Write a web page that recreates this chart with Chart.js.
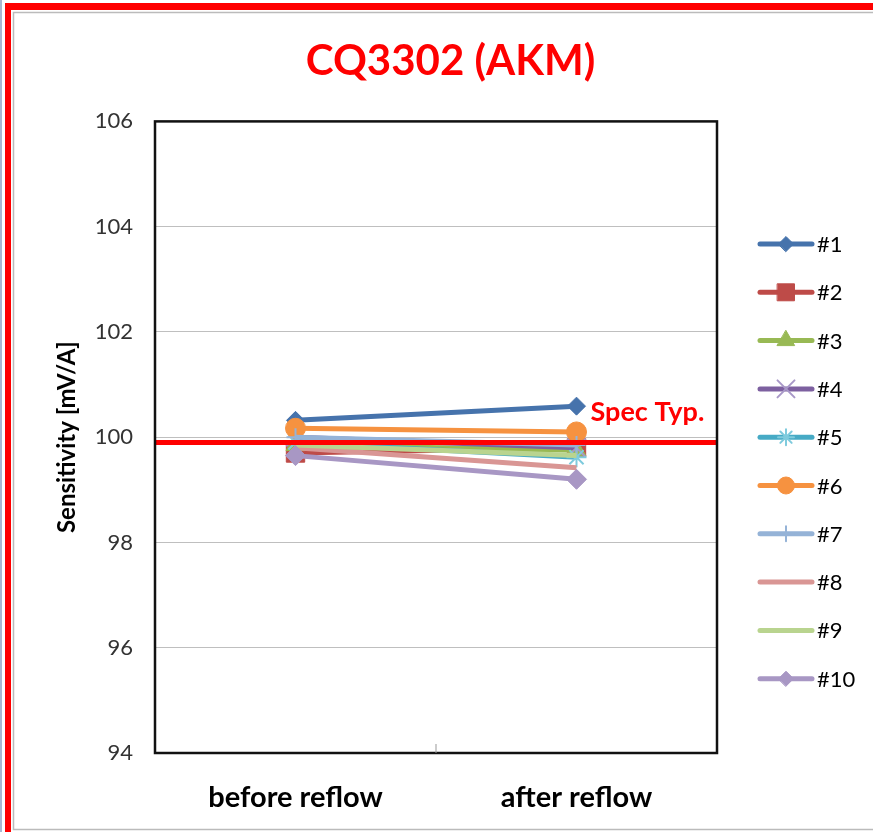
<!DOCTYPE html>
<html><head><meta charset="utf-8">
<script src="https://cdn.jsdelivr.net/npm/chart.js@4"></script>
<style>html,body{margin:0;padding:0;background:#fff}#wrap{width:873px;height:832px;position:relative}</style>
</head><body><div id="wrap"><canvas id="c" width="873" height="832"></canvas></div>
<script>
const categories = ["before reflow", "after reflow"];
const seriesNames = ["#1","#2","#3","#4","#5","#6","#7","#8","#9","#10"];
const s1 = [100.32, 100.59];
const s2 = [99.70, 99.80];
const s3 = [99.85, 99.75];
const s4 = [100.00, 99.80];
const s5 = [99.90, 99.62];
const s6 = [100.17, 100.10];
const s7 = [100.00, 99.85];
const s8 = [99.80, 99.42];
const s9 = [99.85, 99.65];
const s10 = [99.65, 99.20];
const specTyp = [99.9];
const yTicks = [94, 96, 98, 100, 102, 104, 106];

const seriesData = [s1,s2,s3,s4,s5,s6,s7,s8,s9,s10];
const colors = ["#4673AC","#BE4B48","#98B954","#7D60A0","#46AAC5","#F69240","#95B3D7","#D99694","#B9D48F","#A897C4"];
const markerColors = ["#4673AC","#BE4B48","#98B954","#A898C8","#7FCBDD","#F69240","#95B3D7","#D99694","#B9D48F","#A897C4"];
const styles = ["rectRot","rect","triangle","crossRot","star","circle","cross",false,false,"rectRot"];
const radii = [9,13,11,13,10,10,9,0,0,10];
const legendRadii = [7.5,12,10,12,8,8.5,7.5,0,0,7.5];

const datasets = seriesData.map((d,i)=>({
  label: seriesNames[i], data: d, yAxisID: 'y',
  borderColor: colors[i], backgroundColor: markerColors[i],
  pointBackgroundColor: markerColors[i], pointBorderColor: markerColors[i],
  pointStyle: styles[i] || 'circle', pointRadius: radii[i], pointHoverRadius: radii[i],
  pointBorderWidth: (styles[i]==='crossRot'||styles[i]==='star'||styles[i]==='cross')?2:1,
  borderWidth: 5, tension: 0, order: 10 - i
}));

const FONT = "Lato, 'Open Sans', sans-serif";

const decor = {
  id: 'decor',
  beforeDraw(chart){
    const ctx = chart.ctx;
    ctx.save();
    ctx.fillStyle = '#fff'; ctx.fillRect(0,0,chart.width,chart.height);
    ctx.restore();
  },
  afterDatasetsDraw(chart){
    const ctx = chart.ctx, a = chart.chartArea, y = chart.scales.y, x = chart.scales.x;
    ctx.save();
    // spec line
    const sy = y.getPixelForValue(specTyp[0]);
    ctx.strokeStyle = '#FF0000'; ctx.lineWidth = 5;
    ctx.beginPath(); ctx.moveTo(a.left, sy); ctx.lineTo(a.right, sy); ctx.stroke();
    ctx.fillStyle = '#FF0000'; ctx.font = "bold 27px " + FONT;
    ctx.textBaseline = 'middle'; ctx.textAlign = 'left';
    ctx.fillText('Spec Typ.', x.getPixelForValue(1) + 14, sy - 30);
    // plot border
    ctx.strokeStyle = '#111'; ctx.lineWidth = 2.5;
    ctx.strokeRect(a.left, a.top, a.right - a.left, a.bottom - a.top);
    // inner category tick
    const tx = x.getPixelForValue(0.5);
    ctx.strokeStyle = '#999'; ctx.lineWidth = 1;
    ctx.beginPath(); ctx.moveTo(tx, a.bottom - 9); ctx.lineTo(tx, a.bottom); ctx.stroke();
    // legend
    ctx.font = "22px " + FONT; ctx.textBaseline = 'middle';
    chart.data.datasets.forEach((ds,i)=>{
      const ly = 244 + i*48.3;
      ctx.strokeStyle = ds.borderColor; ctx.lineWidth = 5; ctx.lineCap = 'round';
      ctx.beginPath(); ctx.moveTo(760, ly); ctx.lineTo(812, ly); ctx.stroke();
      if (legendRadii[i] > 0) {
        ctx.fillStyle = ds.pointBackgroundColor; ctx.strokeStyle = ds.pointBorderColor; ctx.lineWidth = ds.pointBorderWidth;
        Chart.helpers.drawPoint(ctx, {pointStyle: ds.pointStyle, radius: legendRadii[i], rotation: 0, borderWidth: ds.pointBorderWidth}, 786, ly);
      }
      ctx.fillStyle = '#000';
      ctx.fillText(ds.label, 817, ly + 1);
    });
    ctx.restore();
  },
  afterDraw(chart){
    const ctx = chart.ctx;
    ctx.save();
    ctx.fillStyle = '#A9B8D0'; ctx.fillRect(0,0,2,832);
    ctx.fillStyle = '#FF0000';
    ctx.fillRect(5,3,868,7);
    ctx.fillRect(5,3,6,829);
    ctx.strokeStyle = '#BBBBBB'; ctx.lineWidth = 1.5;
    ctx.beginPath(); ctx.moveTo(873,12.5); ctx.lineTo(13.5,12.5); ctx.lineTo(13.5,829.5); ctx.lineTo(873,829.5); ctx.stroke();
    ctx.restore();
  }
};

new Chart(document.getElementById('c'), {
  type: 'line',
  data: { labels: categories, datasets },
  options: {
    responsive: false, animation: false,
    layout: { padding: { left: 28, right: 0, top: 0, bottom: 0 } },
    plugins: {
      legend: { display: false }, tooltip: { enabled: false },
      title: { display: true, text: 'CQ3302 (AKM)', color: '#FF0000',
        font: { family: FONT, size: 42, weight: 'bold', lineHeight: 1.2 },
        padding: { top: 36, bottom: 35 } }
    },
    scales: {
      x: { offset: true,
        grid: { display: false, drawTicks: false },
        border: { display: false },
        ticks: { color: '#000', font: { family: FONT, size: 29, weight: 'bold' }, padding: 27 },
        afterFit(s){ s.height = 79; }
      },
      y: { min: 94, max: 106, position: 'left',
        afterBuildTicks(s){ s.ticks = yTicks.map(v=>({value:v})); },
        grid: { color: '#BFBFBF', lineWidth: 1, drawTicks: false },
        border: { display: false },
        ticks: { color: '#333', font: { family: FONT, size: 22 }, padding: 22 },
        title: { display: true, text: 'Sensitivity [mV/A]', color: '#000', font: { family: FONT, size: 24, weight: 'bold', lineHeight: 1.2 }, padding: { top: 25, bottom: 0 } },
        afterFit(s){ s.width = 127; }
      },
      yr: { position: 'right', display: true, min: 94, max: 106,
        grid: { display: false, drawTicks: false }, border: { display: false },
        ticks: { display: false },
        afterFit(s){ s.width = 156; }
      }
    }
  },
  plugins: [decor]
});
</script></body></html>
